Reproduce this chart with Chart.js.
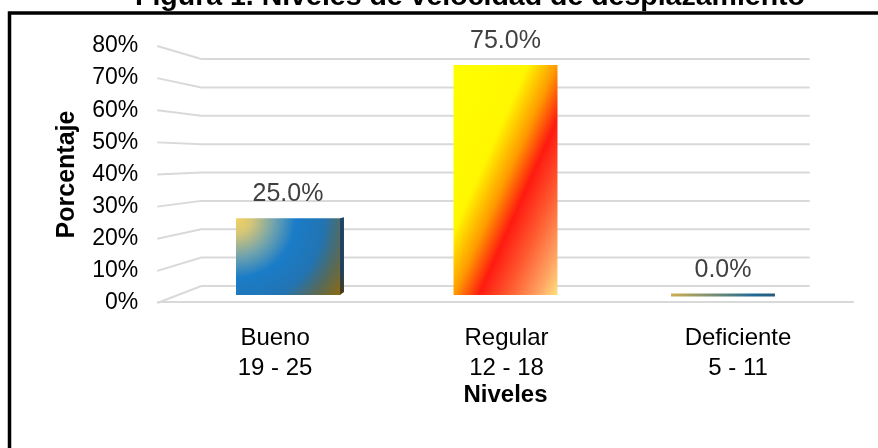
<!DOCTYPE html>
<html>
<head>
<meta charset="utf-8">
<title>Niveles de velocidad de desplazamiento</title>
<script src="https://cdn.jsdelivr.net/npm/chart.js@4.4.1/dist/chart.umd.min.js"></script>
<style>
  html, body { margin: 0; padding: 0; background: #fff; }
  #wrap { width: 878px; height: 448px; }
</style>
</head>
<body>
<div id="wrap"><canvas id="chart-niveles"></canvas></div>
<script>
const TITLE = 'Figura 1. Niveles de velocidad de desplazamiento';
const CATEGORIES = ['Bueno', 'Regular', 'Deficiente'];
const RANGES = ['19 - 25', '12 - 18', '5 - 11'];
const PERCENTS = [25, 75, 0];
const Y_TICKS = [0, 10, 20, 30, 40, 50, 60, 70, 80];

const FONT = '"Liberation Sans", Arial, sans-serif';
const BAR_PCT = 0.478;

// bar geometry taken from the scales, used for the gradients
function barBox(chart, i) {
    const x = chart.scales.x;
    const yb = chart.scales.yb;
    const step = x.getPixelForValue(1) - x.getPixelForValue(0);
    const w = step * BAR_PCT;
    const left = x.getPixelForValue(i) - w / 2;
    const bottom = yb.getPixelForValue(0);
    const top = Math.min(yb.getPixelForValue(PERCENTS[i]), bottom - 3);
    return { left, right: left + w, top, bottom };
}

function barFill(c) {
    const chart = c.chart;
    if (!chart.chartArea || !chart.scales.x || !chart.scales.yb) return '#1a7cc8';
    const ctx = chart.ctx;
    const b = barBox(chart, c.dataIndex);
    const w = b.right - b.left, h = b.bottom - b.top;

    if (c.dataIndex === 0) {
        const g = ctx.createRadialGradient(b.left, b.top, 0, b.left, b.top, Math.hypot(w, h));
        g.addColorStop(0, '#f2d262');
        g.addColorStop(0.12, '#d6c676');
        g.addColorStop(0.3, '#6ea2ae');
        g.addColorStop(0.46, '#1a7cc8');
        g.addColorStop(0.68, '#2274b2');
        g.addColorStop(0.84, '#586a58');
        g.addColorStop(1, '#8c6a10');
        return g;
    }
    if (c.dataIndex === 1) {
        const dx = 0.913, dy = 0.407;
        const len = w * dx + h * dy;
        const g = ctx.createLinearGradient(b.left, b.top, b.left + dx * len, b.top + dy * len);
        g.addColorStop(0, '#ffff00');
        g.addColorStop(0.36, '#fff700');
        g.addColorStop(0.5, '#ff9a00');
        g.addColorStop(0.62, '#ff1a10');
        g.addColorStop(0.76, '#ff5a30');
        g.addColorStop(0.9, '#ffa060');
        g.addColorStop(1, '#ffe080');
        return g;
    }
    const g = ctx.createLinearGradient(b.left, 0, b.right, 0);
    g.addColorStop(0, '#cfae52');
    g.addColorStop(0.45, '#6b8a78');
    g.addColorStop(0.8, '#1f6a94');
    g.addColorStop(1, '#2a5a78');
    return g;
}

const frame = {
    id: 'frame',
    beforeDraw(chart) {
        const ctx = chart.ctx;
        ctx.save();
        ctx.fillStyle = '#fff';
        ctx.fillRect(0, 0, chart.width, chart.height);
        ctx.strokeStyle = '#000';
        ctx.lineWidth = 3.5;
        ctx.beginPath();
        ctx.moveTo(9.5, chart.height);
        ctx.lineTo(9.5, 13);
        ctx.lineTo(chart.width, 13);
        ctx.stroke();

        ctx.fillStyle = '#000';
        ctx.font = `bold 28.5px ${FONT}`;
        ctx.textAlign = 'center';
        ctx.textBaseline = 'alphabetic';
        ctx.fillText(TITLE, 470, 5);
        ctx.restore();
    }
};

// 3d-looking walls: side wall diagonals + back wall lines
const walls = {
    id: 'walls',
    beforeDatasetsDraw(chart) {
        const { ctx, chartArea } = chart;
        const { y, yg } = chart.scales;
        const depth = 22;
        ctx.save();
        ctx.strokeStyle = '#d9d9d9';
        ctx.lineWidth = 2;
        Y_TICKS.forEach(v => {
            ctx.beginPath();
            ctx.moveTo(chartArea.left - depth, y.getPixelForValue(v));
            ctx.lineTo(chartArea.left + depth, yg.getPixelForValue(v));
            ctx.lineTo(chartArea.right - depth, yg.getPixelForValue(v));
            ctx.stroke();
        });
        ctx.beginPath();
        ctx.moveTo(chartArea.left - depth, y.getPixelForValue(0) - 1);
        ctx.lineTo(chartArea.right + depth, y.getPixelForValue(0) - 1);
        ctx.stroke();
        ctx.restore();
    }
};

const barSides = {
    id: 'barSides',
    afterDatasetsDraw(chart) {
        const ctx = chart.ctx;
        const bar = chart.getDatasetMeta(0).data[0];
        if (!bar) return;
        const right = bar.x + bar.width / 2;
        const g = ctx.createLinearGradient(0, bar.y, 0, bar.base);
        g.addColorStop(0, '#1c4566');
        g.addColorStop(0.7, '#23405a');
        g.addColorStop(1, '#4a3c10');
        ctx.save();
        ctx.fillStyle = g;
        ctx.beginPath();
        ctx.moveTo(right, bar.y);
        ctx.lineTo(right + 4, bar.y - 1);
        ctx.lineTo(right + 4, bar.base - 3);
        ctx.lineTo(right, bar.base);
        ctx.closePath();
        ctx.fill();
        ctx.restore();
    }
};

const valueLabels = {
    id: 'valueLabels',
    afterDatasetsDraw(chart) {
        const ctx = chart.ctx;
        ctx.save();
        ctx.font = `25px ${FONT}`;
        ctx.fillStyle = '#404040';
        ctx.textAlign = 'center';
        ctx.textBaseline = 'middle';
        chart.getDatasetMeta(0).data.forEach((bar, i) => {
            const off = PERCENTS[i] === 0 ? 23 : 24;
            ctx.fillText(PERCENTS[i].toFixed(1) + '%', bar.x, Math.min(bar.y, bar.base) - off);
        });
        ctx.restore();
    }
};

new Chart(document.getElementById('chart-niveles'), {
    type: 'bar',
    data: {
        labels: CATEGORIES,
        datasets: [{
            label: 'Porcentaje',
            data: PERCENTS,
            yAxisID: 'yb',
            backgroundColor: barFill,
            borderWidth: 0,
            minBarLength: 3,
            barPercentage: BAR_PCT,
            categoryPercentage: 1
        }]
    },
    options: {
        responsive: true,
        maintainAspectRatio: false,
        animation: false,
        events: [],
        layout: { padding: { top: 46, right: 46.25, bottom: 0, left: 0 } },
        plugins: {
            legend: { display: false },
            tooltip: { enabled: false },
            title: { display: false }
        },
        scales: {
            x: { type: 'category', display: false, offset: true },
            xl: {
                type: 'linear',
                position: 'bottom',
                offset: false,
                min: -0.414,
                max: 2.405,
                bounds: 'data',
                grid: { display: false, drawTicks: false, offset: false },
                border: { display: false },
                afterBuildTicks: s => { s.ticks = CATEGORIES.map((c, i) => ({ value: i })); },
                afterFit: s => { s.height = 145; },
                ticks: {
                    autoSkip: false,
                    maxRotation: 0,
                    padding: 20,
                    color: '#000',
                    font: { family: FONT, size: 24, lineHeight: 1.25 },
                    callback: v => [CATEGORIES[v], RANGES[v]]
                },
                title: {
                    display: true,
                    text: 'Niveles',
                    color: '#000',
                    font: { family: FONT, size: 24, weight: 'bold' },
                    padding: { top: 0, bottom: 38 }
                }
            },
            y: {
                position: 'left',
                min: 0,
                max: 80,
                // tick marks hidden, their length only spaces the labels from the walls
                grid: { display: false, drawTicks: true, tickLength: 40 },
                border: { display: false },
                afterBuildTicks: s => { s.ticks = Y_TICKS.map(v => ({ value: v })); },
                afterFit: s => { s.width = 179.25; },
                ticks: {
                    autoSkip: false,
                    padding: 1,
                    color: '#000',
                    font: { family: FONT, size: 23 },
                    callback: v => v + '%'
                },
                title: {
                    display: true,
                    text: 'Porcentaje',
                    color: '#000',
                    font: { family: FONT, size: 25, weight: 'bold' },
                    padding: { top: 52, bottom: 0 }
                }
            },
            yb: { display: false, position: 'left', min: -2.6, max: 81.2, bounds: 'data' },
            yg: { display: false, position: 'left', min: -6, max: 84.6, bounds: 'data' }
        }
    },
    plugins: [frame, walls, barSides, valueLabels]
});
</script>
</body>
</html>
